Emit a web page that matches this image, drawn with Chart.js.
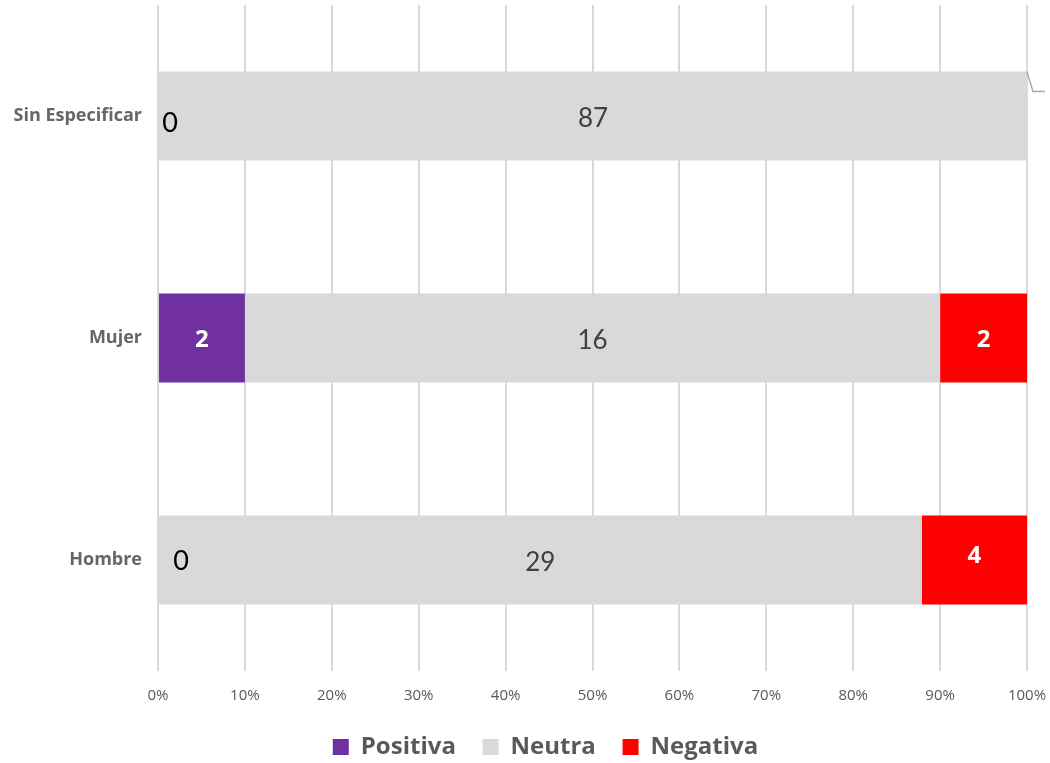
<!DOCTYPE html>
<html>
<head>
<meta charset="utf-8">
<script src="https://cdn.jsdelivr.net/npm/chart.js@4/dist/chart.umd.min.js"></script>
<style>
  body { margin: 0; background: #fff; }
  #wrap { width: 1050px; height: 763px; }
</style>
</head>
<body>
<div id="wrap"><canvas id="chart" width="1050" height="763"></canvas></div>
<script>
// datos del grafico
const categorias = ['Sin Especificar', 'Mujer', 'Hombre'];
const positiva = [0, 2, 0];
const neutra = [87, 16, 29];
const negativa = [0, 2, 4];
const ticksX = [0, 10, 20, 30, 40, 50, 60, 70, 80, 90, 100];

const colores = { positiva: '#7030a0', neutra: '#d9d9d9', negativa: '#ff0000' };

// porcentaje por categoria (100% apilado)
const totales = categorias.map((c, i) => positiva[i] + neutra[i] + negativa[i]);
const pct = arr => arr.map((v, i) => v / totales[i] * 100);

// etiquetas de valor sobre las barras
const etiquetasPlugin = {
    id: 'etiquetas',
    afterLayout(chart) {
        // mover la leyenda un poco a la derecha y abajo como en el original
        const lg = chart.legend;
        if (!lg) return;
        lg.left += 32; lg.right += 32;
        lg.top += 6; lg.bottom += 6;
    },
    afterDatasetsDraw(chart) {
        const ctx = chart.ctx;
        ctx.save();
        ctx.textAlign = 'center';
        ctx.textBaseline = 'middle';
        chart.data.datasets.forEach((ds, di) => {
            const meta = chart.getDatasetMeta(di);
            meta.data.forEach((bar, i) => {
                const raw = ds.raw[i];
                const cx = (bar.x + bar.base) / 2;
                if (di === 1) {
                    ctx.fillStyle = '#404040';
                    ctx.font = '26px Lato, "Open Sans", sans-serif';
                    ctx.fillText(raw, cx, bar.y + 3);
                } else if (raw > 0) {
                    ctx.fillStyle = '#ffffff';
                    ctx.font = 'bold 24px "Open Sans", sans-serif';
                    ctx.fillText(raw, cx, bar.y + (i === 2 ? -4 : 2));
                } else if (di === 0) {
                    const off = i === 0 ? 12 : 23;
                    ctx.fillStyle = '#000000';
                    ctx.font = '27px Lato, "Open Sans", sans-serif';
                    ctx.fillText(raw, bar.base + off, bar.y + (i === 0 ? 7 : 1));
                } else if (i === 0) {
                    // linea guia de la etiqueta fuera del area
                    const top = bar.y - bar.height / 2;
                    ctx.strokeStyle = '#a6a6a6';
                    ctx.lineWidth = 1.5;
                    ctx.beginPath();
                    ctx.moveTo(bar.x, top);
                    ctx.lineTo(bar.x + 6, top + 20);
                    ctx.lineTo(bar.x + 18, top + 20);
                    ctx.stroke();
                }
            });
        });
        ctx.restore();
    }
};

const ctx = document.getElementById('chart').getContext('2d');
new Chart(ctx, {
    type: 'bar',
    data: {
        labels: categorias,
        datasets: [
            { label: 'Positiva', data: pct(positiva), raw: positiva, backgroundColor: colores.positiva },
            { label: 'Neutra', data: pct(neutra), raw: neutra, backgroundColor: colores.neutra },
            { label: 'Negativa', data: pct(negativa), raw: negativa, backgroundColor: colores.negativa }
        ]
    },
    options: {
        indexAxis: 'y',
        responsive: false,
        animation: false,
        layout: { padding: { top: 5, right: 23, left: 0, bottom: 0 } },
        datasets: { bar: { categoryPercentage: 1, barPercentage: 0.4, borderWidth: 0 } },
        scales: {
            x: {
                stacked: true,
                min: 0,
                max: 100,
                afterBuildTicks: scale => { scale.ticks = ticksX.map(v => ({ value: v })); },
                afterFit: scale => { scale.paddingLeft = 0; scale.paddingRight = 0; },
                ticks: {
                    callback: v => v + '%',
                    color: '#595959',
                    font: { family: '"Open Sans", sans-serif', size: 15 },
                    padding: 16
                },
                grid: { color: '#d9d9d9', lineWidth: 2, drawTicks: false },
                border: { display: false }
            },
            y: {
                stacked: true,
                afterFit: scale => {
                    scale.width = 158;
                    scale.paddingTop = 0;
                    scale.paddingBottom = 0;
                },
                ticks: {
                    color: '#666666',
                    font: { family: '"Open Sans", sans-serif', size: 18, weight: 'bold' },
                    padding: 16
                },
                grid: { display: false, drawTicks: false },
                border: { display: false }
            }
        },
        plugins: {
            tooltip: { enabled: false },
            legend: {
                position: 'bottom',
                labels: {
                    color: '#595959',
                    font: { family: '"Open Sans", sans-serif', size: 24, weight: 'bold' },
                    boxWidth: 16,
                    boxHeight: 16,
                    padding: 8,
                    generateLabels: chart => {
                        const items = Chart.defaults.plugins.legend.labels.generateLabels(chart);
                        items.forEach((it, k) => { if (k < items.length - 1) it.text += '   '; });
                        return items;
                    }
                }
            }
        }
    },
    plugins: [etiquetasPlugin]
});
</script>
</body>
</html>
